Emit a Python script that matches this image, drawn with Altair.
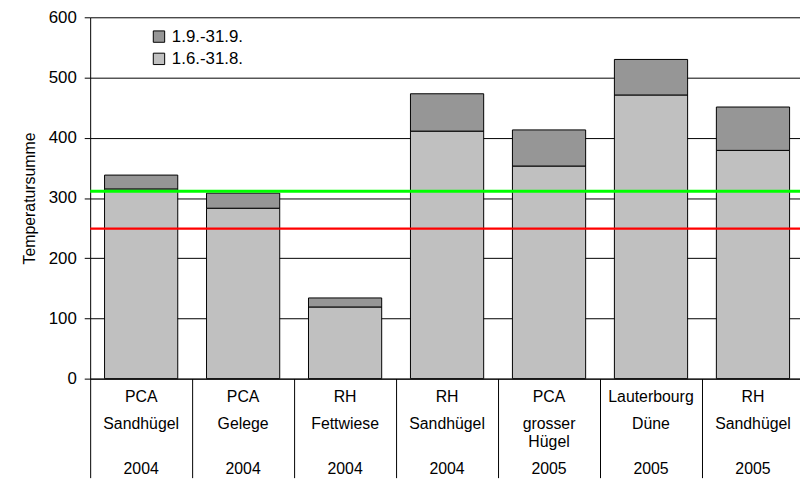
import altair as alt
import pandas as pd

# ---- data ----
orgs = ["PCA", "PCA", "RH", "RH", "PCA", "Lauterbourg", "RH"]
sites = ["Sandhügel", "Gelege", "Fettwiese", "Sandhügel", "grosser Hügel", "Düne", "Sandhügel"]
years = ["2004", "2004", "2004", "2004", "2005", "2005", "2005"]
summer = [315, 283, 119, 411, 353, 471, 379]      # 1.6.-31.8.
september = [23, 25, 15, 62, 60, 59, 72]          # 1.9.-31.9.
periods = ["1.9.-31.9.", "1.6.-31.8."]
period_colors = ["#969696", "#C0C0C0"]
threshold_green = [311]
threshold_red = [249]

FONT = "Liberation Sans"

keys = [f"{orgs[i]} {sites[i]} {years[i]}" for i in range(len(orgs))]

rows = []
label_rows = []
for i, key in enumerate(keys):
    rows.append({"cat": key, "period": periods[1], "value": summer[i], "ord": 0})
    rows.append({"cat": key, "period": periods[0], "value": september[i], "ord": 1})
    parts = sites[i].split(" ")
    label_rows.append({"cat": key, "kind": "org", "txt": orgs[i]})
    label_rows.append({"cat": key, "kind": "site", "txt": parts[0]})
    if len(parts) > 1:
        label_rows.append({"cat": key, "kind": "site2", "txt": " ".join(parts[1:])})
    label_rows.append({"cat": key, "kind": "year", "txt": years[i]})
df = pd.DataFrame(rows)
df_lab = pd.DataFrame(label_rows)

x_scale = alt.Scale(domain=keys, range=[0, 721], paddingInner=0, paddingOuter=0)


def x_axis():
    return alt.Axis(
        title=None,
        labels=False,
        tickBand="extent",
        tickSize=100,
        tickColor="black",
        domainColor="black",
    )


y_scale = alt.Scale(domain=[0, 600], nice=False)

y_enc = alt.Y(
    "value:Q",
    stack="zero",
    scale=y_scale,
    axis=alt.Axis(
        title="Temperatursumme",
        values=[0, 100, 200, 300, 400, 500, 600],
        labelFontSize=17,
        labelFont=FONT,
        labelColor="black",
        labelPadding=8,
        tickSize=6,
        tickColor="black",
        domainColor="black",
        grid=True,
        gridColor="black",
        gridWidth=1,
        titleFont=FONT,
        titleFontSize=16,
        titleFontWeight="normal",
        titleColor="black",
        titleAngle=270,
        titleX=-61,
        titleY=182.5,
        titleAlign="center",
        titleBaseline="middle",
    ),
)

bars = alt.Chart(df).mark_bar(
    width=alt.RelativeBandSize(0.718), stroke="black", strokeWidth=1
).encode(
    x=alt.X("cat:N", sort=keys, scale=x_scale, axis=x_axis()),
    y=y_enc,
    color=alt.Color(
        "period:N",
        scale=alt.Scale(domain=periods, range=period_colors),
        legend=alt.Legend(
            title=None,
            orient="none",
            legendX=61,
            legendY=11,
            padding=0,
            symbolType="square",
            symbolSize=132,
            symbolStrokeColor="black",
            symbolStrokeWidth=1,
            symbolOpacity=1,
            labelFont=FONT,
            labelFontSize=17,
            labelColor="black",
            labelOffset=4.5,
            rowPadding=4.5,
        ),
    ),
    order=alt.Order("ord:Q"),
)

green = alt.Chart(pd.DataFrame({"value": threshold_green})).mark_rule(
    color="#00FF00", strokeWidth=3
).encode(y=alt.Y("value:Q", scale=y_scale))
red = alt.Chart(pd.DataFrame({"value": threshold_red})).mark_rule(
    color="#FF0000", strokeWidth=2.3
).encode(y=alt.Y("value:Q", scale=y_scale))

main = alt.layer(bars, green, red)

# category table below the axis: rows laid out by a point scale
row_slots = ["org", "_a", "_b", "site", "_c", "site2", "_d", "_e", "year"]
labels = alt.Chart(df_lab).mark_text(
    font=FONT, fontSize=16, color="black", align="center", baseline="middle"
).encode(
    x=alt.X("cat:N", sort=keys, scale=x_scale, axis=x_axis()),
    y=alt.Y(
        "kind:N",
        scale=alt.Scale(type="point", domain=row_slots, range=[384, 456], padding=0),
        axis=None,
    ),
    text="txt:N",
)

chart = (
    alt.layer(main, labels)
    .resolve_scale(y="independent")
    .properties(
        width=717,
        height=365,
        autosize=alt.AutoSizeParams(type="none"),
        padding={"left": 83, "top": 7, "right": 0, "bottom": 100},
    )
    .configure(font=FONT)
    .configure_view(strokeWidth=0)
)

chart.save("out.html", embed_options={"renderer": "svg", "actions": False})
